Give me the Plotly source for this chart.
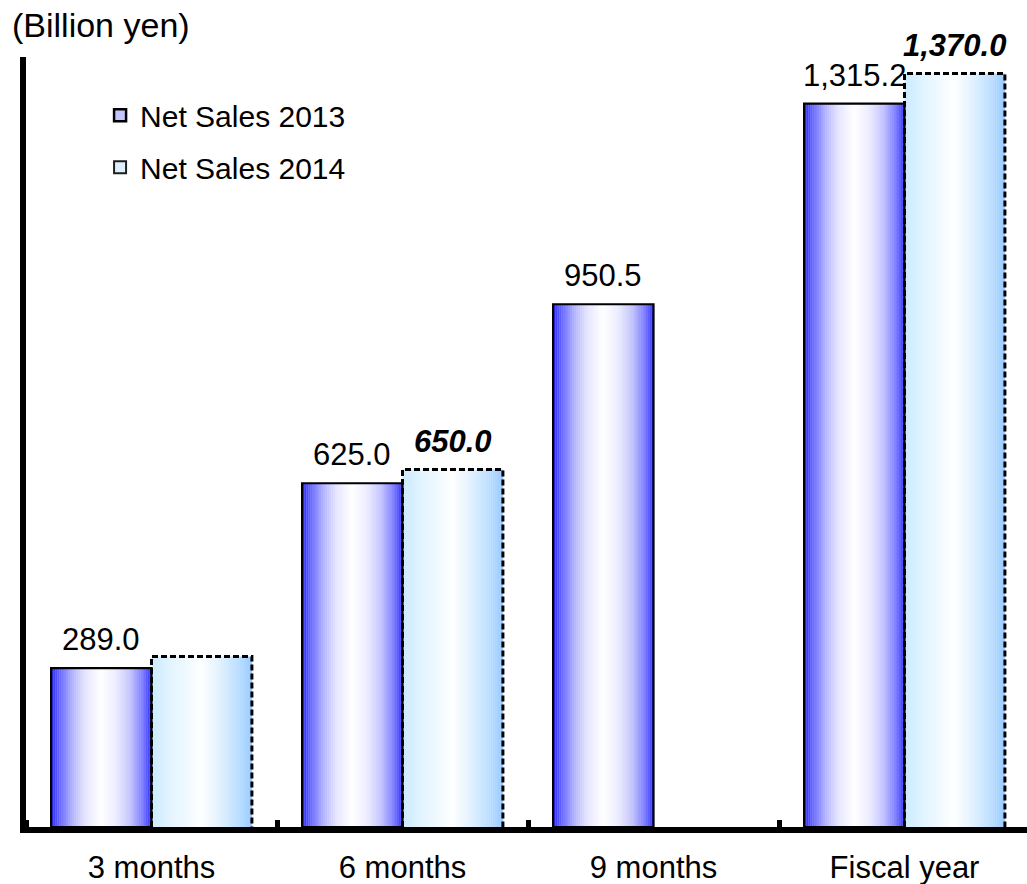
import plotly.graph_objects as go

# --- data -------------------------------------------------------------
categories = ["3 months", "6 months", "9 months", "Fiscal year"]
sales_2013 = [289.0, 625.0, 950.5, 1315.2]
sales_2014 = [310.0, 650.0, None, 1370.0]
# value labels shown above the bars (None = no label)
labels_2013 = [289.0, 625.0, 950.5, 1315.2]
labels_2014 = [None, 650.0, None, 1370.0]

FONT = "Arial, Liberation Sans, sans-serif"
FS = 31
BAR_W = 0.4
N_SLICES = 48

# horizontal colour ramps used to fake a cylinder-like gradient fill
RAMP_2013 = [(0.00, (40, 40, 255)), (0.08, (100, 100, 255)), (0.20, (175, 175, 255)),
             (0.35, (232, 232, 255)), (0.50, (255, 255, 255)), (0.65, (236, 236, 255)),
             (0.80, (190, 190, 255)), (0.90, (136, 136, 255)), (1.00, (45, 45, 255))]
RAMP_2014 = [(0.00, (204, 234, 255)), (0.20, (226, 244, 255)), (0.50, (255, 255, 255)),
             (0.75, (212, 235, 255)), (1.00, (155, 204, 255))]


def ramp_color(stops, t):
    for (t0, c0), (t1, c1) in zip(stops[:-1], stops[1:]):
        if t0 <= t <= t1:
            f = (t - t0) / (t1 - t0)
            r, g, b = (round(a + (bb - a) * f) for a, bb in zip(c0, c1))
            return f"rgb({r},{g},{b})"
    r, g, b = stops[-1][1]
    return f"rgb({r},{g},{b})"


xpos = list(range(len(categories)))
fig = go.Figure()


def gradient_bars(values, base_offset, stops):
    step = BAR_W / N_SLICES
    for k in range(N_SLICES):
        fig.add_trace(go.Bar(
            x=xpos, y=values,
            offset=base_offset + k * step, width=step * 1.15,
            marker=dict(color=ramp_color(stops, (k + 0.5) / N_SLICES), line=dict(width=0)),
            showlegend=False, hoverinfo="skip",
        ))


gradient_bars(sales_2013, -BAR_W, RAMP_2013)
gradient_bars(sales_2014, 0.0, RAMP_2014)

# solid outline for the 2013 bars
fig.add_trace(go.Bar(
    x=xpos, y=sales_2013, offset=-BAR_W, width=BAR_W,
    marker=dict(color="rgba(0,0,0,0)", line=dict(color="black", width=2.2)),
    showlegend=False, hovertemplate="%{y:,.1f}<extra>Net Sales 2013</extra>",
))

# dashed outline for the 2014 bars
ox, oy = [], []
for x, v in zip(xpos, sales_2014):
    if v is None:
        continue
    ox += [x, x, x + BAR_W, x + BAR_W, None]
    oy += [0, v, v, 0, None]
fig.add_trace(go.Scatter(
    x=ox, y=oy, mode="lines",
    line=dict(color="black", width=3, dash="6px,3px"),
    showlegend=False, hoverinfo="skip",
))

# legend entries
fig.add_trace(go.Bar(
    x=[None], y=[None], name="Net Sales 2013", legendgroup="a",
    marker=dict(color="rgb(196,196,255)", line=dict(color="black", width=2.5)),
))
fig.add_trace(go.Bar(
    x=[None], y=[None], name="Net Sales 2014", legendgroup="b",
    marker=dict(color="rgb(222,240,255)", line=dict(color="rgb(30,30,30)", width=2)),
))

annotations = []
for x, v in zip(xpos, labels_2013):
    if v is not None:
        annotations.append(dict(
            x=x - BAR_W / 2, y=v, text=f"{v:,.1f}", showarrow=False,
            xanchor="center", yanchor="bottom", yshift=9,
            font=dict(family=FONT, size=FS, color="black"),
        ))
for x, v in zip(xpos, labels_2014):
    if v is not None:
        annotations.append(dict(
            x=x + BAR_W / 2, y=v, text=f"<b><i>{v:,.1f}</i></b>", showarrow=False,
            xanchor="center", yanchor="bottom", yshift=9,
            font=dict(family=FONT, size=FS, color="black"),
        ))
annotations.append(dict(
    xref="paper", yref="paper", x=-0.016, y=1.0416, xanchor="left", yanchor="middle",
    text="(Billion yen)", showarrow=False,
    font=dict(family=FONT, size=34, color="black"),
))

fig.update_layout(
    width=1027, height=884,
    margin=dict(l=26, r=0, t=57, b=57, pad=0),
    paper_bgcolor="white", plot_bgcolor="white",
    barmode="overlay",
    font=dict(family=FONT, size=FS, color="black"),
    showlegend=True,
    legend=dict(
        x=0.074, y=0.958, xanchor="left", yanchor="top",
        bgcolor="rgba(0,0,0,0)", tracegroupgap=10,
        font=dict(family=FONT, size=FS - 1, color="black"),
    ),
    annotations=annotations,
)
fig.update_xaxes(
    range=[-0.5, 3.488], tickmode="array", tickvals=xpos, ticktext=categories,
    ticks="", showgrid=False, zeroline=False, ticklabelstandoff=8,
    showline=True, linecolor="black", linewidth=6,
    tickfont=dict(family=FONT, size=FS, color="black"),
    minor=dict(tickmode="array", tickvals=[-0.5, 0.5, 1.5, 2.5], ticks="inside",
               ticklen=7, tickwidth=5, tickcolor="black", showgrid=False),
)
fig.update_yaxes(
    range=[0, 1400], showticklabels=False, ticks="", showgrid=False, zeroline=False,
    showline=True, linecolor="black", linewidth=6,
)

fig.write_html("out.html")
